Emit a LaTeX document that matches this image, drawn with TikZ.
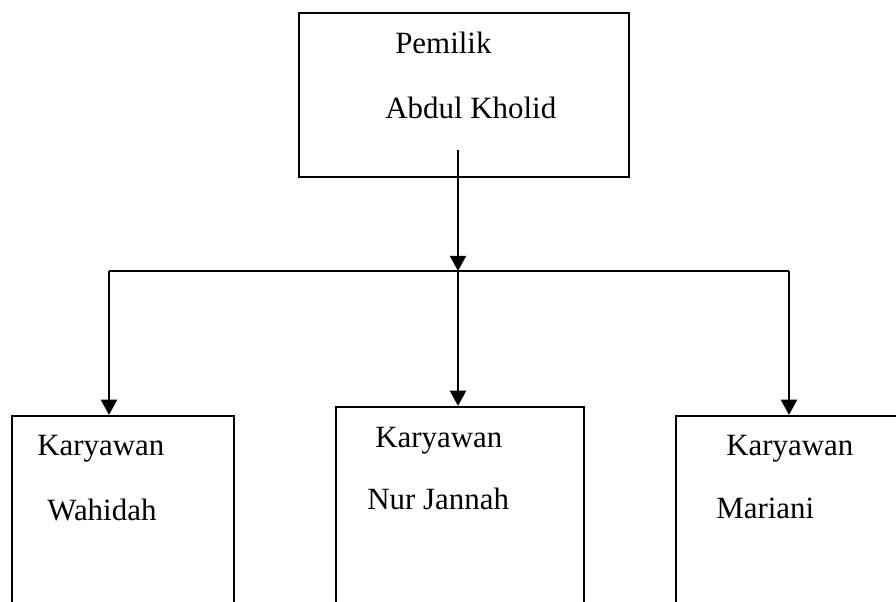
\documentclass[tikz,border=0pt]{standalone}
\usepackage{fontspec}
\setmainfont{Liberation Serif}
\usetikzlibrary{arrows.meta,positioning}

\tikzset{
  orgbox/.style={draw, line width=1.5pt, rectangle, inner sep=0pt},
  boxtext/.style={anchor=base west, inner sep=0pt, font=\fontsize{22}{26}\selectfont},
  orgline/.style={line width=1.6pt},
  orgarrow/.style={line width=1.6pt, -{Triangle[length=0.38cm,width=0.4cm]}}
}

\begin{document}
\begin{tikzpicture}[x=0.025cm, y=-0.025cm]
			\useasboundingbox (0,0) rectangle (896,601);
			
			% Owner box
			\node[orgbox, minimum width=8.25cm, minimum height=4.1cm] (owner) at (464,95) {};
			\node[boxtext] (ownerrole) at (395,53) {Pemilik};
			\node[boxtext] (ownername) at (385,118) {Abdul Kholid};
			
			% Staff boxes (cut off at the bottom of the page)
			\node[orgbox, minimum width=5.55cm, minimum height=5.6cm] (staffa) at (123,528) {};
			\node[orgbox, minimum width=6.2cm, minimum height=5.825cm] (staffb) at (460,523.5) {};
			\node[orgbox, minimum width=5.65cm, minimum height=5.6cm] (staffc) at (789,528) {};
			
			\node[boxtext] (staffarole) at (37,455) {Karyawan};
			\node[boxtext] (staffaname) at (47,520) {Wahidah};
			\node[boxtext] (staffbrole) at (375,447) {Karyawan};
			\node[boxtext] (staffbname) at (367,509) {Nur Jannah};
			\node[boxtext] (staffcrole) at (726,455) {Karyawan};
			\node[boxtext] (staffcname) at (716,518) {Mariani};
			
			% Connectors
			\coordinate (stem) at (458,150);
			\coordinate (junction) at (458,271);
			\coordinate (leftend) at (109,271);
			\coordinate (rightend) at (789,271);
			
			\draw[orgarrow] (stem) -- (junction);
			\draw[orgline] (leftend) -- (rightend);
			\draw[orgarrow] (leftend) -- (leftend |- staffa.north);
			\draw[orgarrow] (junction) -- (junction |- staffb.north);
			\draw[orgarrow] (rightend) -- (rightend |- staffc.north);
		\end{tikzpicture}
\end{document}
